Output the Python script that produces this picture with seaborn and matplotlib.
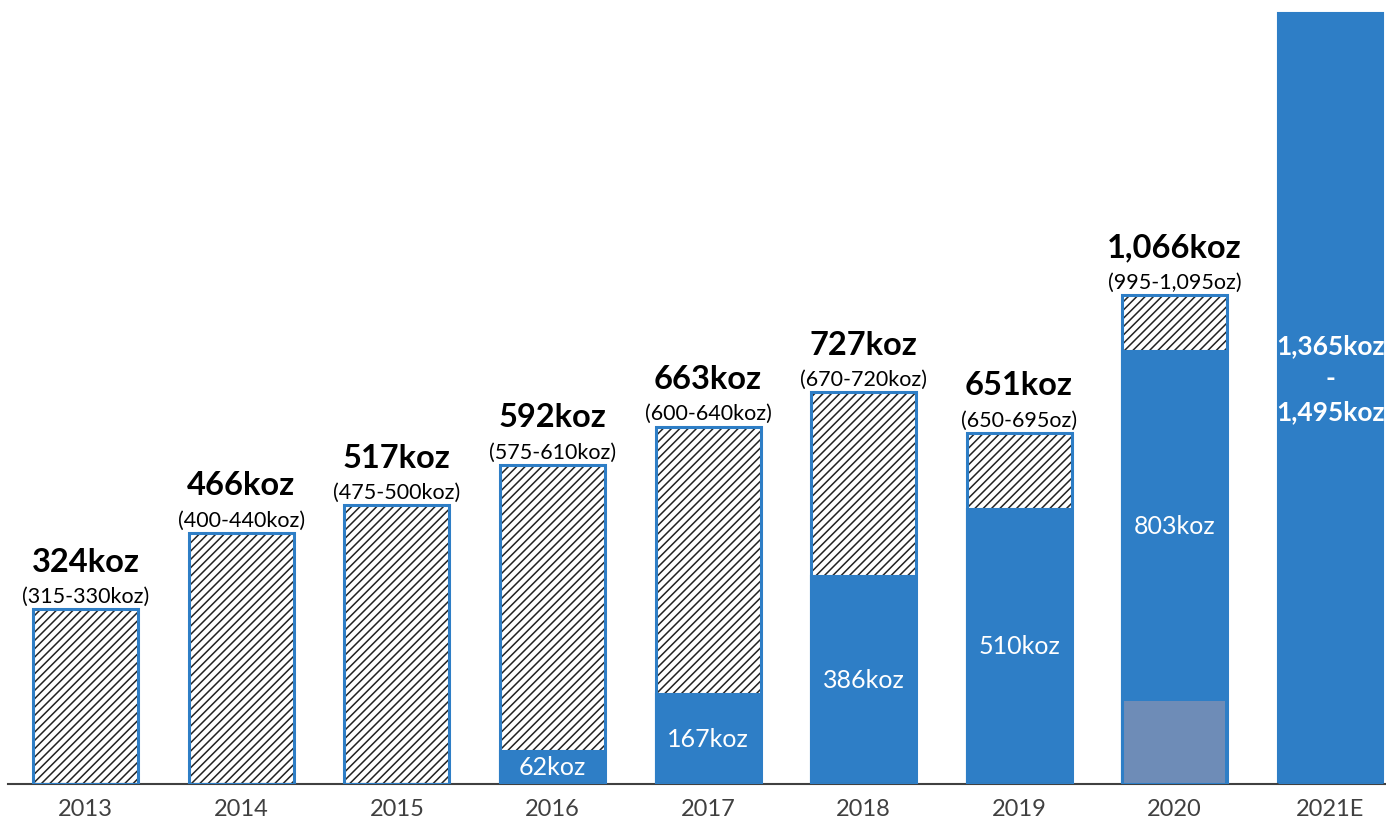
import matplotlib
matplotlib.use("Agg")
import matplotlib.pyplot as plt
import seaborn as sns
import pandas as pd

# Production by year (koz)
years = ["2013", "2014", "2015", "2016", "2017", "2018", "2019", "2020", "2021E"]
headline = ["324koz", "466koz", "517koz", "592koz", "663koz", "727koz", "651koz", "1,066koz", ""]
guidance = ["(315-330koz)", "(400-440koz)", "(475-500koz)", "(575-610koz)", "(600-640koz)",
            "(670-720koz)", "(650-695oz)", "(995-1,095oz)", ""]
hatched_total = [324, 466, 517, 592, 663, 727, 651, 907, 0]
blue_part = [0, 0, 0, 62, 167, 386, 510, 803, 1430]
blue_labels = ["", "", "", "62koz", "167koz", "386koz", "510koz", "803koz", ""]
grey_part = [0, 0, 0, 0, 0, 0, 0, 154, 0]
forecast_text = "1,365koz\n-\n1,495koz"

BLUE = "#2E7EC6"
GREY = "#6E8CB7"
DARK = "#404040"

sns.set_theme(style="white")
plt.rcParams["font.family"] = ["Lato", "DejaVu Sans"]
plt.rcParams["hatch.linewidth"] = 1.1

df = pd.DataFrame({"year": years, "total": hatched_total, "blue": blue_part, "grey": grey_part})

W, H = 1386, 821
fig = plt.figure(figsize=(W / 100, H / 100), dpi=100)
ax = fig.add_axes([8 / W, 37 / H, 1400 / W, 784 / H])

width = 0.675
# hatched bars (hatch takes the edge colour, so outline is drawn separately)
sns.barplot(data=df, x="year", y="total", order=years, color="white", width=width,
            saturation=1, ax=ax, zorder=1)
for p in list(ax.patches):
    p.set_facecolor("white")
    p.set_edgecolor("#222222")
    p.set_hatch("////")
    p.set_linewidth(0)

# solid blue portion
sns.barplot(data=df, x="year", y="blue", order=years, color=BLUE, width=width,
            saturation=1, ax=ax, zorder=2, edgecolor=BLUE, linewidth=1.5)
# grey bottom portion for 2020
sns.barplot(data=df, x="year", y="grey", order=years, color=GREY, width=width * 0.96,
            saturation=1, ax=ax, zorder=3, linewidth=0)
# blue outline around the hatched totals
sns.barplot(data=df, x="year", y="total", order=years, fill=False, width=width,
            ax=ax, zorder=4, edgecolor=BLUE, linewidth=2.2)

ax.set_xlim(-0.5, 8.5)
ax.set_ylim(0, 1455)
ax.set_xlabel("")
ax.set_ylabel("")
ax.set_yticks([])
for s in ["left", "right", "top"]:
    ax.spines[s].set_visible(False)
ax.spines["bottom"].set_color(DARK)
ax.spines["bottom"].set_linewidth(1.5)
ax.tick_params(axis="x", length=0, pad=11, labelsize=17, labelcolor=DARK)

for i, yr in enumerate(years):
    top = max(hatched_total[i], blue_part[i])
    if headline[i]:
        ax.annotate(headline[i], (i, top), xytext=(0, 34), textcoords="offset points",
                    ha="center", va="center", fontsize=23.5, fontweight="bold", color="black")
        ax.annotate(guidance[i], (i, top), xytext=(0, 9), textcoords="offset points",
                    ha="center", va="center", fontsize=15.5, color="black")
    if blue_labels[i]:
        ymid = (grey_part[i] + blue_part[i]) / 2
        ax.text(i, ymid, blue_labels[i], ha="center", va="center", fontsize=18, color="white")

ax.text(8, (784 - 379) / 784 * 1455, forecast_text, ha="center", va="center",
        fontsize=19, fontweight="bold", color="white", linespacing=1.45)

fig.savefig("out.png", dpi=100)
